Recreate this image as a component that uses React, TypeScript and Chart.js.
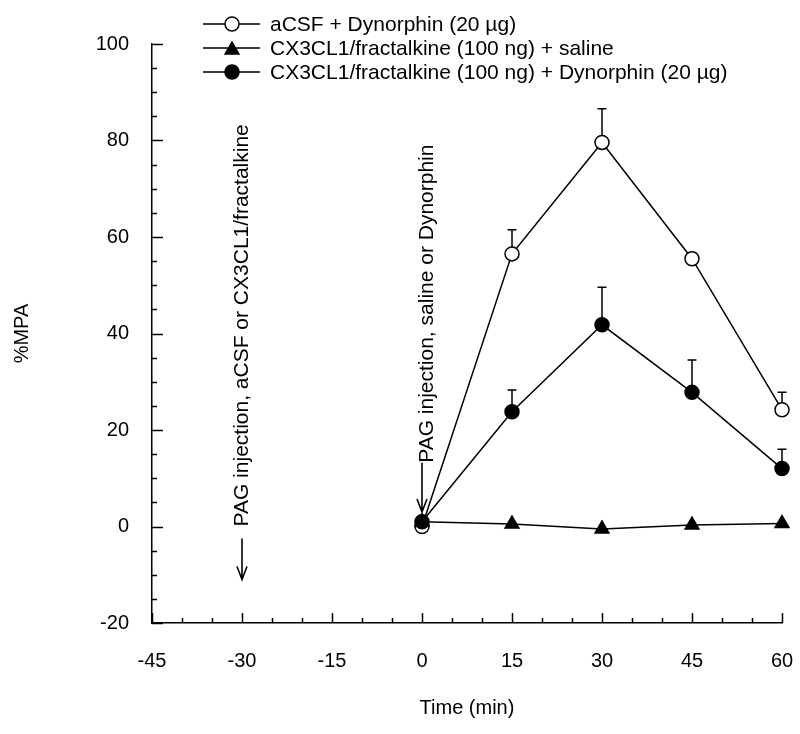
import React, { useEffect, useRef } from 'react';
import { Chart, registerables } from 'chart.js';

Chart.register(...registerables);

// ---- data ----
const timePoints = [0, 15, 30, 45, 60];
const seriesLabels = [
  'aCSF + Dynorphin (20 µg)',
  'CX3CL1/fractalkine (100 ng) + saline',
  'CX3CL1/fractalkine (100 ng) + Dynorphin (20 µg)',
];
const acsfDyn = [0, 56.5, 79.6, 55.5, 24.2];
const acsfDynErr = [0, 5.0, 7.0, 1.2, 3.6];
const fktSaline = [1, 0.5, -0.5, 0.3, 0.6];
const fktSalineErr = [0, 0, 0, 0, 0];
const fktDyn = [1, 23.8, 41.8, 27.8, 12.0];
const fktDynErr = [0, 4.5, 7.8, 6.7, 4.0];

const xTickLabels = [-45, -30, -15, 0, 15, 30, 45, 60];
const yTickLabels = [-20, 0, 20, 40, 60, 80, 100];

const injectionTimes = [-30, 0];
const injectionTexts = [
  'PAG injection, aCSF or CX3CL1/fractalkine',
  'PAG injection, saline or Dynorphin',
];

const FONT = "'Liberation Sans', Arial, Helvetica, sans-serif";

const errorArrays = [acsfDynErr, fktSalineErr, fktDynErr];

const errorBarsPlugin = {
  id: 'errorBars',
  beforeDatasetsDraw(chart: any) {
    const { ctx, scales } = chart;
    const x = scales.x, y = scales.y;
    ctx.save();
    ctx.strokeStyle = '#000';
    ctx.lineWidth = 1.5;
    chart.data.datasets.forEach((ds: any, i: number) => {
      const errs = errorArrays[i];
      ds.data.forEach((p: any, j: number) => {
        const e = errs[j];
        if (!e) return;
        const px = x.getPixelForValue(p.x);
        const py = y.getPixelForValue(p.y);
        const pt = y.getPixelForValue(p.y + e);
        ctx.beginPath();
        ctx.moveTo(px, py);
        ctx.lineTo(px, pt);
        ctx.moveTo(px - 4.5, pt);
        ctx.lineTo(px + 4.5, pt);
        ctx.stroke();
      });
    });
    ctx.restore();
  },
};

const axisTicksPlugin = {
  id: 'inwardTicks',
  afterDatasetsDraw(chart: any) {
    const { ctx, scales, chartArea } = chart;
    const x = scales.x, y = scales.y;
    ctx.save();
    ctx.strokeStyle = '#000';
    ctx.lineWidth = 1.5;
    y.ticks.forEach((t: any) => {
      const py = Math.round(y.getPixelForValue(t.value)) + 0.5;
      const len = yTickLabels.includes(t.value) ? 11 : 5;
      ctx.beginPath();
      ctx.moveTo(chartArea.left, py);
      ctx.lineTo(chartArea.left + len, py);
      ctx.stroke();
    });
    x.ticks.forEach((t: any) => {
      const px = Math.round(x.getPixelForValue(t.value)) + 0.5;
      const len = xTickLabels.includes(t.value) ? 10 : 5;
      ctx.beginPath();
      ctx.moveTo(px, chartArea.bottom);
      ctx.lineTo(px, chartArea.bottom - len);
      ctx.stroke();
    });
    ctx.restore();
  },
};

const annotationPlugin = {
  id: 'injections',
  afterDatasetsDraw(chart: any) {
    const { ctx, scales } = chart;
    const x = scales.x, y = scales.y;
    const textStarts = [0, 13.2];
    const textDx = [0, 5];
    const arrowFrom = [-2.5, 13.2];
    const arrowTo = [-11, 3.0];
    ctx.save();
    ctx.fillStyle = '#000';
    ctx.strokeStyle = '#000';
    ctx.lineWidth = 1.6;
    ctx.font = `21px ${FONT}`;
    injectionTimes.forEach((t, i) => {
      const px = x.getPixelForValue(t);
      const sy = y.getPixelForValue(textStarts[i]);
      ctx.save();
      ctx.translate(px + textDx[i], sy);
      ctx.rotate(-Math.PI / 2);
      ctx.textAlign = 'left';
      ctx.textBaseline = 'middle';
      ctx.fillText(injectionTexts[i], 0, 0);
      ctx.restore();
      const y1 = y.getPixelForValue(arrowFrom[i]);
      const y2 = y.getPixelForValue(arrowTo[i]);
      ctx.beginPath();
      ctx.moveTo(px, y1);
      ctx.lineTo(px, y2);
      ctx.moveTo(px - 5, y2 - 13);
      ctx.lineTo(px, y2);
      ctx.lineTo(px + 5, y2 - 13);
      ctx.stroke();
    });
    ctx.restore();
  },
};

const legendPlugin = {
  id: 'lineLegend',
  afterDraw(chart: any) {
    const { ctx } = chart;
    const rowsY = [24, 48, 72];
    const x0 = 203, x1 = 260, mx = 232, tx = 270;
    ctx.save();
    chart.data.datasets.forEach((ds: any, i: number) => {
      const yy = rowsY[i];
      ctx.strokeStyle = '#000';
      ctx.lineWidth = 1.5;
      ctx.beginPath();
      ctx.moveTo(x0, yy);
      ctx.lineTo(x1, yy);
      ctx.stroke();
      ctx.fillStyle = ds.pointBackgroundColor;
      ctx.strokeStyle = '#000';
      ctx.lineWidth = ds.pointBorderWidth;
      ctx.beginPath();
      if (ds.pointStyle === 'triangle') {
        const r = ds.pointRadius;
        for (let k = 0; k < 3; k++) {
          const a = -Math.PI / 2 + (k * 2 * Math.PI) / 3;
          const px = mx + Math.cos(a) * r;
          const py = yy + r * 0.25 + Math.sin(a) * r;
          if (k === 0) ctx.moveTo(px, py); else ctx.lineTo(px, py);
        }
        ctx.closePath();
      } else {
        ctx.arc(mx, yy, ds.pointRadius, 0, Math.PI * 2);
      }
      ctx.fill();
      ctx.stroke();
      ctx.fillStyle = '#000';
      ctx.font = `21px ${FONT}`;
      ctx.textAlign = 'left';
      ctx.textBaseline = 'middle';
      ctx.fillText(seriesLabels[i], tx, yy + 1);
    });
    ctx.restore();
  },
};

const toPoints = (vals: number[]) => timePoints.map((t, i) => ({ x: t, y: vals[i] }));

export default function App() {
  const canvasRef = useRef<HTMLCanvasElement | null>(null);

  useEffect(() => {
    document.body.style.margin = '0';
    const canvas = canvasRef.current;
    if (!canvas) return;
    const common = {
      borderColor: '#000',
      borderWidth: 1.5,
      pointBorderColor: '#000',
      pointBorderWidth: 1.5,
      tension: 0,
      fill: false,
      clip: false,
    };
    const chart = new Chart(canvas, {
      type: 'line',
      data: {
        datasets: [
          {
            ...common,
            label: seriesLabels[0],
            data: toPoints(acsfDyn),
            pointStyle: 'circle',
            pointRadius: 7,
            pointBackgroundColor: '#fff',
            order: 2,
          },
          {
            ...common,
            label: seriesLabels[1],
            data: toPoints(fktSaline),
            pointStyle: 'triangle',
            pointRadius: 8,
            pointBackgroundColor: '#000',
            order: 1,
          },
          {
            ...common,
            label: seriesLabels[2],
            data: toPoints(fktDyn),
            pointStyle: 'circle',
            pointRadius: 7,
            pointBackgroundColor: '#000',
            order: 0,
          },
        ] as any,
      },
      options: {
        responsive: false,
        animation: false,
        layout: { padding: { top: 44, right: 18, left: 0, bottom: 0 } },
        plugins: {
          legend: { display: false },
          tooltip: { enabled: false },
        },
        scales: {
          x: {
            type: 'linear',
            min: -45,
            max: 60,
            afterFit: (s: any) => {
              s.height = 111;
              s.paddingLeft = 0;
              s.paddingRight = 0;
            },
            ticks: {
              stepSize: 5,
              autoSkip: false,
              maxRotation: 0,
              minRotation: 0,
              padding: 26,
              color: '#000',
              font: { family: FONT, size: 20 },
              callback: (v: any) => (xTickLabels.includes(Number(v)) ? String(v) : ''),
            },
            grid: { display: true, drawOnChartArea: false, drawTicks: false },
            border: { display: true, color: '#000', width: 1.5 },
            title: {
              display: true,
              text: 'Time (min)',
              color: '#000',
              font: { family: FONT, size: 20 },
              padding: { top: 0, bottom: 14 },
            },
          },
          y: {
            type: 'linear',
            min: -20,
            max: 100,
            afterFit: (s: any) => {
              s.width = 152;
              s.paddingTop = 0;
              s.paddingBottom = 0;
            },
            ticks: {
              stepSize: 5,
              autoSkip: false,
              padding: 23,
              color: '#000',
              font: { family: FONT, size: 20 },
              callback: (v: any) => (yTickLabels.includes(Number(v)) ? String(v) : ''),
            },
            grid: { display: true, drawOnChartArea: false, drawTicks: false },
            border: { display: true, color: '#000', width: 1.5 },
            title: {
              display: true,
              text: '%MPA',
              color: '#000',
              font: { family: FONT, size: 20 },
              padding: { top: 10, bottom: 0 },
            },
          },
        },
      } as any,
      plugins: [errorBarsPlugin, axisTicksPlugin, annotationPlugin, legendPlugin],
    });
    return () => chart.destroy();
  }, []);

  return (
    <div style={{ width: 800, height: 734, background: '#fff' }}>
      <canvas ref={canvasRef} width={800} height={734} />
    </div>
  );
}
